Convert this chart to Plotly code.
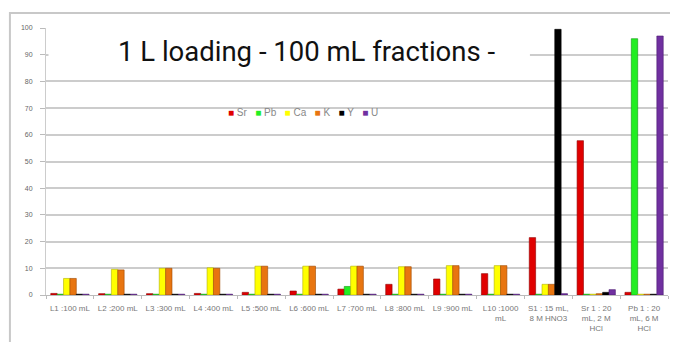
import plotly.graph_objects as go

# fractions on the x axis
categories = ["L1 :100 mL", "L2 :200 mL", "L3 :300 mL", "L4 :400 mL", "L5 :500 mL",
              "L6 :600 mL", "L7 :700 mL", "L8 :800 mL", "L9 :900 mL", "L10 :1000<br>mL",
              "S1 : 15 mL,<br>8 M HNO3", "Sr 1 : 20<br>mL, 2 M<br>HCl", "Pb 1 : 20<br>mL, 6 M<br>HCl"]

# % recovered per element
sr = [0.6, 0.5, 0.5, 0.6, 1.0, 1.5, 2.2, 4.0, 6.0, 8.0, 21.5, 57.8, 1.0]
pb = [0.3, 0.3, 0.3, 0.3, 0.3, 0.3, 3.2, 0.3, 0.3, 0.3, 0.3, 0.3, 96.0]
ca = [6.2, 9.6, 10.0, 10.2, 10.8, 10.8, 10.8, 10.6, 11.0, 11.0, 4.0, 0.3, 0.3]
k = [6.2, 9.4, 10.0, 10.0, 10.8, 10.8, 10.8, 10.6, 11.0, 11.0, 4.0, 0.5, 0.3]
yt = [0.3, 0.3, 0.3, 0.3, 0.3, 0.3, 0.3, 0.3, 0.3, 0.3, 99.5, 1.0, 0.3]
u = [0.3, 0.3, 0.3, 0.3, 0.3, 0.3, 0.3, 0.3, 0.3, 0.3, 0.5, 2.0, 97.0]

series = [("Sr", sr, "#e00000", "#900000"),
          ("Pb", pb, "#22ee22", "#119911"),
          ("Ca", ca, "#ffff00", "#b0b000"),
          ("K", k, "#e87510", "#a04800"),
          ("Y", yt, "#000000", "#000000"),
          ("U", u, "#7030a0", "#4a1a70")]

fig = go.Figure()
for name, vals, col, edge in series:
    fig.add_bar(x=categories, y=vals, name=name,
                marker=dict(color=col, line=dict(color=edge, width=0.6)))

# little legend row built as text (Excel style, tight)
legend_txt = "&nbsp;&nbsp;&nbsp;".join(
    f"<span style='color:{col}'>■</span>&nbsp;<span style='color:#888'>{name}</span>"
    for name, vals, col, edge in series)

# page body has an 8px margin, so margins are shifted to keep the plot where it belongs
fig.update_layout(
    width=678, height=342,
    margin=dict(l=38, r=18, t=20, b=55),
    paper_bgcolor="white", plot_bgcolor="white",
    barmode="group", bargap=0.2, bargroupgap=0,
    showlegend=False,
    font=dict(family="Liberation Sans, Arial", size=7, color="#666"),
    xaxis=dict(showgrid=False, showline=True, linecolor="#bbbbbb", linewidth=1,
               ticks="outside", tickson="boundaries", ticklen=3, tickcolor="#bbbbbb",
               tickfont=dict(size=8, color="#777"), tickangle=0, automargin=False,
               ticklabelstandoff=5),
    yaxis=dict(range=[0, 100], dtick=10, showgrid=True, gridcolor="#cccccc", gridwidth=2,
               showline=True, linecolor="#cccccc", ticks="outside", ticklen=5,
               tickcolor="#bbbbbb", tickfont=dict(size=7, color="#666"), zeroline=False,
               automargin=False, ticklabelstandoff=6),
    shapes=[
        dict(type="rect", xref="paper", yref="paper", x0=-0.058, x1=1.01, y0=-0.2, y1=1.056,
             line=dict(color="#c8c8c8", width=2), layer="below"),
        dict(type="rect", xref="paper", yref="paper", x0=0.004, x1=0.778, y0=0.84, y1=0.96,
             fillcolor="white", line=dict(width=0), layer="above"),
    ],
    annotations=[
        dict(text="1 L loading - 100 mL fractions -", xref="paper", yref="paper",
             x=0.42, y=0.912, yanchor="middle", showarrow=False,
             font=dict(family="Roboto", size=27.5, color="#111")),
        dict(text=legend_txt, xref="paper", yref="paper", x=0.413, y=0.682,
             yanchor="middle", showarrow=False, font=dict(size=10)),
    ],
)

fig.write_html("out.html")
